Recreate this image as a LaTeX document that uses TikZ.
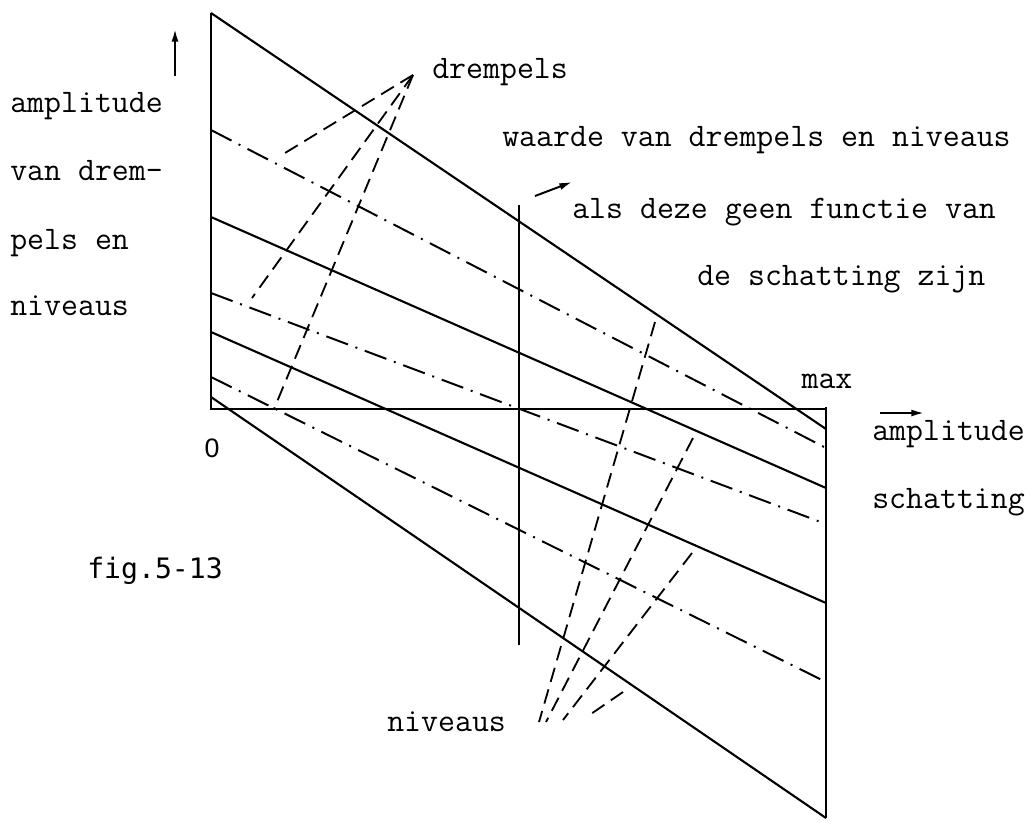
\documentclass[tikz,border=0pt]{standalone}
\usepackage{fontspec}
\newfontfamily\figfont{DejaVu Sans Mono}
\newfontfamily\nulfont{Liberation Sans}
\usetikzlibrary{arrows.meta, positioning}

\begin{document}
\begin{tikzpicture}[x=0.025cm, y=-0.025cm,
  lbl/.style={inner sep=0pt, anchor=base west, font=\ttfamily\fontsize{23.4}{28}\selectfont},
  grens/.style={line width=1.5pt},
  niveau/.style={line width=1.4pt, dash pattern=on 16.4pt off 5.7pt on 1.4pt off 5.7pt},
  wijzer/.style={line width=1.3pt, dash pattern=on 10.5pt off 5.5pt},
  pijl/.style={-{Latex[length=9pt,width=5pt]}, line width=1.4pt}]

  \useasboundingbox (0,0) rectangle (1033,823);

  % assen
  \coordinate (top) at (211,13);
  \coordinate (oorsprong) at (211,409);
  \coordinate (maxpt) at (826,407);
  \coordinate (rbot) at (826,818);
  \coordinate (mtop) at (519,205);
  \coordinate (mbot) at (519,645);

  \draw[grens] (top) -- (oorsprong) -- (826,409);
  \draw[grens] (maxpt) -- (rbot);
  \draw[grens] (mtop) -- (mbot);

  % drempels (doorgetrokken) en niveaus (streep-punt)
  \coordinate (d1a) at (211,13);   \coordinate (d1b) at (826,429);
  \coordinate (n1a) at (211,130);  \coordinate (n1b) at (826,448);
  \coordinate (d2a) at (211,217);  \coordinate (d2b) at (826,488);
  \coordinate (n2a) at (211,293);  \coordinate (n2b) at (826,524);
  \coordinate (d3a) at (211,332);  \coordinate (d3b) at (826,603);
  \coordinate (n3a) at (211,377);  \coordinate (n3b) at (826,682);
  \coordinate (d4a) at (211,397);  \coordinate (d4b) at (826,818);

  \draw[grens] (d1a) -- (d1b);
  \draw[grens] (d2a) -- (d2b);
  \draw[grens] (d3a) -- (d3b);
  \draw[grens] (d4a) -- (d4b);
  \draw[niveau] (n1a) -- (n1b);
  \draw[niveau] (n2a) -- (n2b);
  \draw[niveau] (n3a) -- (n3b);

  % labels
  \node[lbl] (ampl) at (10,112) {amplitude};
  \node[lbl] (vandrem) at (10,180) {van drem-};
  \node[lbl] (pelsen) at (10,249) {pels en};
  \node[lbl] (niv) at (10,315) {niveaus};
  \node[lbl] (drempels) at (432,78) {drempels};
  \node[lbl] (waarde) at (502,146) {waarde van drempels en niveaus};
  \node[lbl] (als) at (572,218) {als deze geen functie van};
  \node[lbl] (schat) at (697,285) {de schatting zijn};
  \node[lbl, anchor=base] (max) at (827,388) {max};
  \node[lbl] (amplx) at (872,440) {amplitude};
  \node[lbl] (schatx) at (872,508) {schatting};
  \node[lbl] (niveaus) at (387,731) {niveaus};
  \node[inner sep=0pt, anchor=base, font=\nulfont\fontsize{19}{22}\selectfont] (nul) at (212,457) {0};
  \node[inner sep=0pt, anchor=base west, font=\figfont\fontsize{20}{24}\selectfont] (fig) at (87,578) {fig.5-13};

  % wijzers naar de drempels
  \coordinate (dpunt) at (413,75);
  \coordinate (dw1) at (285,153);
  \coordinate (dw2) at (252,298);
  \coordinate (dw3) at (274,409);
  \draw[wijzer] (dpunt) -- (dw1);
  \draw[wijzer] (dpunt) -- (dw2);
  \draw[wijzer] (dpunt) -- (dw3);

  % wijzers naar de niveaus
  \coordinate (nw1a) at (655,322); \coordinate (nw1b) at (539,722);
  \coordinate (nw2a) at (693,438); \coordinate (nw2b) at (546,722);
  \coordinate (nw3a) at (692,553); \coordinate (nw3b) at (563,720);
  \coordinate (nw4a) at (623,692); \coordinate (nw4b) at (588,716);
  \draw[wijzer] (nw1a) -- (nw1b);
  \draw[wijzer] (nw2a) -- (nw2b);
  \draw[wijzer] (nw3a) -- (nw3b);
  \draw[wijzer] (nw4a) -- (nw4b);

  % pijlen
  \coordinate (ya) at (175,76);  \coordinate (yb) at (175,29);
  \coordinate (xa) at (880,413); \coordinate (xb) at (924,413);
  \coordinate (aa) at (535,196); \coordinate (ab) at (572,182);
  \draw[pijl] (ya) -- (yb);
  \draw[pijl] (xa) -- (xb);
  \draw[pijl] (aa) -- (ab);
\end{tikzpicture}
\end{document}
